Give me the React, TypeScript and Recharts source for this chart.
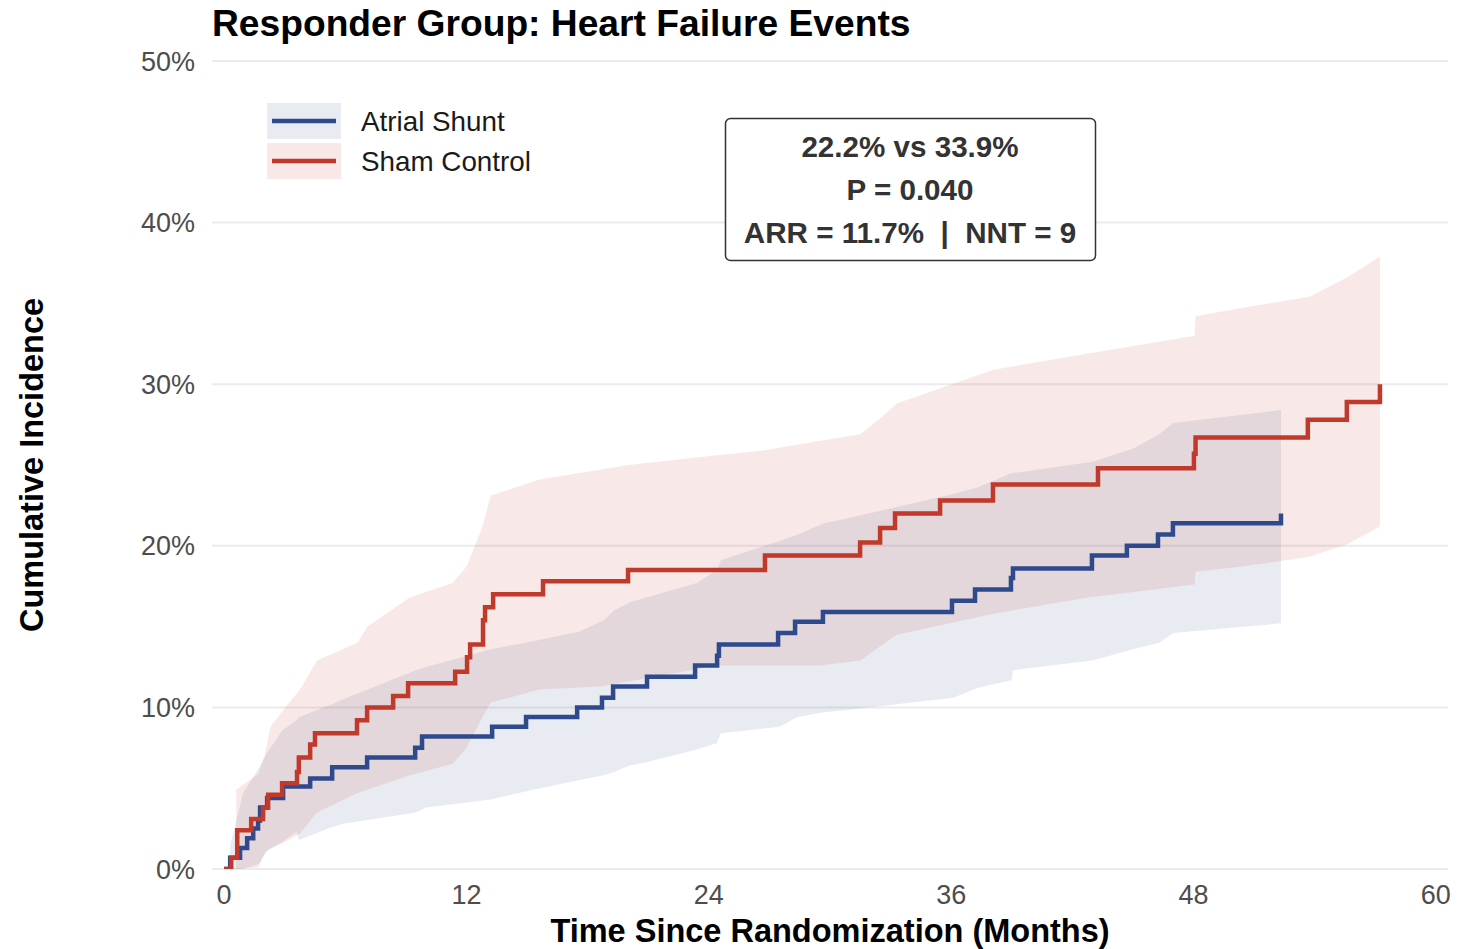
import { ComposedChart, Line, Area, XAxis, YAxis, CartesianGrid, Label } from "recharts";

// Kaplan-Meier style cumulative incidence (%), [months, value]
const shuntSteps: [number, number][] = [
  [0, 0], [0.3, 0.7], [0.79, 1.3], [1.14, 1.9], [1.44, 2.5], [1.68, 3.0], [1.78, 3.8],
  [2.13, 4.4], [2.92, 5.1], [4.26, 5.6], [5.35, 6.3], [7.08, 6.9], [9.46, 7.5], [9.8, 8.2],
  [13.27, 8.8], [14.95, 9.4], [17.48, 10.0], [18.71, 10.6], [19.26, 11.3], [20.94, 11.9],
  [23.32, 12.6], [24.41, 13.2], [24.5, 13.9], [27.43, 14.6], [28.27, 15.3], [29.65, 15.9],
  [36.04, 16.6], [37.18, 17.3], [38.96, 18.0], [39.06, 18.6], [42.97, 19.4], [44.7, 20.0],
  [46.24, 20.7], [46.98, 21.4], [52.33, 22.0],
];

const shamSteps: [number, number][] = [
  [0, 0], [0.35, 0.7], [0.65, 2.4], [1.34, 3.1], [1.93, 3.8], [2.18, 4.6], [2.87, 5.3],
  [3.61, 6.0], [3.7, 6.9], [4.26, 7.7], [4.5, 8.4], [6.58, 9.2], [7.08, 10.0], [8.37, 10.7],
  [9.11, 11.5], [11.44, 12.2], [12.03, 13.1], [12.18, 13.9], [12.82, 15.4], [12.92, 16.2],
  [13.32, 17.0], [15.79, 17.8], [20.0, 18.5], [26.78, 19.4], [31.49, 20.2], [32.48, 21.1],
  [33.22, 22.0], [35.45, 22.8], [38.07, 23.8], [43.27, 24.8], [48.02, 25.7], [48.1, 26.7],
  [53.66, 27.8], [55.59, 28.9], [57.23, 30.0],
];

// 95% confidence bands, [months, lower, upper]
const shuntBand: [number, number, number][] = [
  [0.3, 0, 1.5], [0.94, 0, 4.7], [1.7, 0.3, 6.2], [2.13, 1.1, 7.2], [2.9, 1.7, 8.6],
  [3.6, 2.3, 9.2], [3.7, 1.8, 9.4],
  [5.35, 2.6, 10.2], [5.9, 2.8, 10.5], [9.5, 3.5, 12.3], [10.0, 3.8, 12.5], [13.2, 4.3, 13.6],
  [15.3, 4.9, 14.1], [17.6, 5.5, 14.7], [18.8, 5.8, 15.4], [19.3, 6.0, 16.0], [20.1, 6.4, 16.5],
  [20.9, 6.6, 16.8], [23.4, 7.4, 17.7], [24.4, 7.8, 18.5], [24.6, 8.4, 19.1], [27.5, 8.8, 20.3],
  [28.4, 9.4, 20.7], [29.7, 9.7, 21.4], [30.5, 9.8, 21.6], [36.1, 10.6, 23.2], [37.3, 11.2, 23.6],
  [39.0, 11.7, 24.5], [39.06, 12.3, 24.5], [43.0, 12.9, 25.2], [45.0, 13.6, 26.0],
  [46.3, 14.0, 26.9], [47.0, 14.6, 27.6], [52.33, 15.2, 28.4],
];

const shamBand: [number, number, number][] = [
  [0.6, 0, 4.9], [1.7, 0.1, 5.9], [2.0, 1.0, 7.0], [2.3, 1.3, 8.8], [2.9, 1.6, 9.8],
  [3.76, 2.2, 11.1], [4.6, 3.5, 12.9], [6.6, 4.7, 14.0], [7.1, 4.9, 15.0], [9.2, 5.8, 16.8],
  [11.3, 6.5, 17.7], [12.0, 7.5, 18.7], [12.8, 9.4, 21.2], [13.2, 10.3, 23.1], [15.6, 11.1, 24.1],
  [18.6, 11.3, 24.7], [20.0, 11.6, 25.0], [24.4, 12.6, 25.6], [26.7, 12.6, 25.9],
  [29.5, 12.6, 26.5], [31.5, 12.9, 26.9], [32.5, 13.8, 27.9], [33.3, 14.5, 28.8],
  [38.1, 15.8, 30.9], [42.8, 16.8, 31.9], [48.05, 17.6, 33.0], [48.1, 18.4, 34.2],
  [50.3, 18.7, 34.7], [53.7, 19.3, 35.4], [55.6, 20.1, 36.6], [57.23, 21.2, 37.9],
];

const xTicks = [0, 12, 24, 36, 48, 60];
const yTicks = [0, 10, 20, 30, 40, 50];

const statLines = ["22.2% vs 33.9%", "P = 0.040", "ARR = 11.7%  |  NNT = 9"];

const BLUE = "#2E4A8C";
const RED = "#C0392B";
const FONT = "'Liberation Sans', Arial, Helvetica, sans-serif";

const toSteps = (rows: [number, number][]) => rows.map(([t, v]) => ({ t, v }));
const toBand = (rows: [number, number, number][]) =>
  rows.map(([t, lo, hi]) => ({ t, range: [lo, hi] }));

export default function App() {
  return (
    <div style={{ position: "absolute", left: 0, top: 0, width: 1458, height: 949, background: "#fff", fontFamily: FONT }}>
      <ComposedChart
        width={1458}
        height={949}
        margin={{ top: 61, right: 10, bottom: 0, left: 0 }}
      >
        <CartesianGrid horizontal vertical={false} stroke="#EBEBEB" strokeWidth={2} />
        <XAxis
          dataKey="t"
          type="number"
          domain={[-0.6, 60.6]}
          allowDataOverflow
          ticks={xTicks}
          height={80}
          axisLine={false}
          tickLine={false}
          tickMargin={10}
          tick={{ fontSize: 27, fill: "#4D4D4D", fontFamily: FONT }}
        >
          <Label
            content={(props: any) => {
              const vb = props.viewBox;
              return (
                <text x={vb.x + vb.width / 2} y={vb.y + 73} textAnchor="middle"
                  fontSize={32.5} fontWeight="bold" fill="#000" fontFamily={FONT}>
                  Time Since Randomization (Months)
                </text>
              );
            }}
          />
        </XAxis>
        <YAxis
          type="number"
          domain={[0, 50]}
          allowDataOverflow
          ticks={yTicks}
          width={212}
          axisLine={false}
          tickLine={false}
          tickMargin={11}
          tickFormatter={(v: number) => `${v}%`}
          tick={{ fontSize: 27, fill: "#4D4D4D", fontFamily: FONT }}
        >
          <Label
            content={(props: any) => {
              const vb = props.viewBox;
              const cx = vb.x + 32;
              const cy = vb.y + vb.height / 2;
              return (
                <text x={cx} y={cy} transform={`rotate(-90 ${cx} ${cy})`} textAnchor="middle"
                  dominantBaseline="central" fontSize={32.5} fontWeight="bold" fill="#000" fontFamily={FONT}>
                  Cumulative Incidence
                </text>
              );
            }}
          />
        </YAxis>
        <Area
          data={toBand(shuntBand)}
          dataKey="range"
          type="linear"
          stroke="none"
          fill={BLUE}
          fillOpacity={0.11}
          isAnimationActive={false}
          activeDot={false}
        />
        <Area
          data={toBand(shamBand)}
          dataKey="range"
          type="linear"
          stroke="none"
          fill={RED}
          fillOpacity={0.11}
          isAnimationActive={false}
          activeDot={false}
        />
        <Line
          data={toSteps(shuntSteps)}
          dataKey="v"
          name="Atrial Shunt"
          type="stepAfter"
          stroke={BLUE}
          strokeWidth={4.5}
          dot={false}
          activeDot={false}
          isAnimationActive={false}
        />
        <Line
          data={toSteps(shamSteps)}
          dataKey="v"
          name="Sham Control"
          type="stepAfter"
          stroke={RED}
          strokeWidth={4.5}
          dot={false}
          activeDot={false}
          isAnimationActive={false}
        />
      </ComposedChart>

      {/* title, legend and stats box */}
      <svg width={1458} height={949} style={{ position: "absolute", left: 0, top: 0, pointerEvents: "none" }}>
        <text x={212} y={36} fontSize={37.2} fontWeight="bold" fill="#000" fontFamily={FONT}>
          Responder Group: Heart Failure Events
        </text>

        <rect x={267} y={103} width={74} height={36} fill={BLUE} fillOpacity={0.11} />
        <line x1={272} x2={336} y1={121} y2={121} stroke={BLUE} strokeWidth={4.5} />
        <text x={361} y={131} fontSize={27.8} fill="#1A1A1A" fontFamily={FONT}>Atrial Shunt</text>
        <rect x={267} y={143} width={74} height={36} fill={RED} fillOpacity={0.11} />
        <line x1={272} x2={336} y1={161} y2={161} stroke={RED} strokeWidth={4.5} />
        <text x={361} y={171} fontSize={27.8} fill="#1A1A1A" fontFamily={FONT}>Sham Control</text>

        <rect x={725.5} y={118.5} width={370} height={142} rx={5} fill="#fff" stroke="#333" strokeWidth={1.5} />
        {statLines.map((s, i) => (
          <text key={s} x={910} y={157 + i * 43} textAnchor="middle" fontSize={29.6} fontWeight="bold"
            fill="#333" fontFamily={FONT} style={{ whiteSpace: "pre" }}>
            {s}
          </text>
        ))}
      </svg>
    </div>
  );
}
